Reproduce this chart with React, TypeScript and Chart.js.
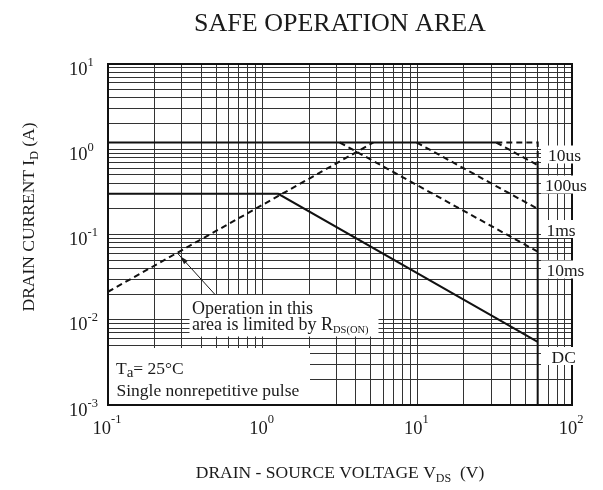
import React, { useEffect, useRef } from "react";
import { Chart, registerables } from "chart.js";

Chart.register(...registerables);

// ---------- axis ticks ----------
const xDecades = [0.1, 1, 10];
const xMax = 100;
const xTickValues = [0.1, 1, 10, 100];
const xTickExponents = ["-1", "0", "1", "2"];
const yDecades = [0.001, 0.01, 0.1, 1];
const yMax = 10;
const yTickValues = [0.001, 0.01, 0.1, 1, 10];
const yTickExponents = ["-3", "-2", "-1", "0", "1"];
const gridMultipliers = [1, 2, 3, 4, 5, 6, 7, 8, 9];

// ---------- curves (V_DS in V, I_D in A) ----------
const pulseLimitV = [0.1, 32.4];
const pulseLimitI = [1.2, 1.2];
const t10usV = [32.4, 60, 60];
const t10usI = [1.2, 1.2, 0.65];
const t100usV = [32.4, 60];
const t100usI = [1.2, 0.65];
const t1msV = [9.9, 60];
const t1msI = [1.2, 0.2];
const t10msV = [3.15, 60];
const t10msI = [1.2, 0.063];
const dcV = [0.1, 1.26, 60];
const dcI = [0.3, 0.3, 0.0055];
const vdsMaxV = [60, 60];
const vdsMaxI = [0.65, 0.001];
const rdsV = [0.1, 5.2];
const rdsI = [0.0213, 1.2];

const curveLabels = ["10us", "100us", "1ms", "10ms", "DC"];
const arrowTipV = 0.28;

const FONT = '"Liberation Serif", "Times New Roman", serif';
const INK = "#1a1a1a";

type Seg = { t: string; size: number; dy?: number };

function pts(xs: number[], ys: number[]) {
  return xs.map((x, i) => ({ x, y: ys[i] }));
}

function gridValues(decades: number[], max: number) {
  const out: number[] = [];
  decades.forEach((d) => gridMultipliers.forEach((m) => out.push(+(d * m).toPrecision(6))));
  out.push(max);
  return out;
}

function drawSegs(ctx: CanvasRenderingContext2D, segs: Seg[], x: number, y: number, align: "left" | "center" | "right") {
  const widths = segs.map((s) => {
    ctx.font = `${s.size}px ${FONT}`;
    return ctx.measureText(s.t).width;
  });
  const total = widths.reduce((a, b) => a + b, 0);
  let cx = align === "left" ? x : align === "center" ? x - total / 2 : x - total;
  ctx.textAlign = "left";
  ctx.textBaseline = "alphabetic";
  segs.forEach((s, i) => {
    ctx.font = `${s.size}px ${FONT}`;
    ctx.fillText(s.t, cx, y + (s.dy || 0));
    cx += widths[i];
  });
}

function logInterp(xs: number[], ys: number[], x: number) {
  const lx0 = Math.log10(xs[0]), lx1 = Math.log10(xs[1]);
  const ly0 = Math.log10(ys[0]), ly1 = Math.log10(ys[1]);
  const t = (Math.log10(x) - lx0) / (lx1 - lx0);
  return Math.pow(10, ly0 + t * (ly1 - ly0));
}

const decorPlugin = {
  id: "decor",
  beforeDatasetsDraw(chart: any) {
    const ctx = chart.ctx as CanvasRenderingContext2D;
    ctx.save();
    ctx.fillStyle = "#ffffff";
    // annotation boxes (cover grid)
    ctx.fillRect(189.5, 295, 189, 41.5);
    ctx.fillRect(109, 348, 201, 57);
    ctx.fillStyle = INK;
    drawSegs(ctx, [{ t: "Operation in this", size: 18 }], 192, 314, "left");
    drawSegs(
      ctx,
      [
        { t: "area is limited by R", size: 18 },
        { t: "DS(ON)", size: 10.5, dy: 3 },
      ],
      192,
      329.5,
      "left"
    );
    drawSegs(
      ctx,
      [
        { t: "T", size: 17.5 },
        { t: "a", size: 15, dy: 3.5 },
        { t: "= 25°C", size: 17.5 },
      ],
      116,
      373.5,
      "left"
    );
    drawSegs(ctx, [{ t: "Single nonrepetitive pulse", size: 17.5 }], 116.5, 396, "left");
    ctx.restore();
  },
  afterDatasetsDraw(chart: any) {
    const ctx = chart.ctx as CanvasRenderingContext2D;
    const { left, right, top, bottom } = chart.chartArea;
    const xs = chart.scales.x;
    const ys = chart.scales.y;
    ctx.save();
    // arrow to the R_DS(on) limit line
    const ex = xs.getPixelForValue(arrowTipV);
    const ey = ys.getPixelForValue(logInterp(rdsV, rdsI, arrowTipV));
    const tx = 215, ty = 294.5;
    ctx.strokeStyle = INK;
    ctx.lineWidth = 1;
    ctx.beginPath();
    ctx.moveTo(tx, ty);
    ctx.lineTo(ex, ey);
    ctx.stroke();
    const dx = ex - tx, dy = ey - ty;
    const len = Math.hypot(dx, dy);
    const ux = dx / len, uy = dy / len;
    const hx = ex - ux * 5, hy = ey - uy * 5;
    ctx.fillStyle = INK;
    ctx.beginPath();
    ctx.moveTo(hx, hy);
    ctx.lineTo(hx - ux * 8 - uy * 2.5, hy - uy * 8 + ux * 2.5);
    ctx.lineTo(hx - ux * 8 + uy * 2.5, hy - uy * 8 - ux * 2.5);
    ctx.closePath();
    ctx.fill();

    // plot frame
    ctx.strokeStyle = "#111";
    ctx.lineWidth = 2;
    ctx.strokeRect(left, top, right - left, bottom - top);

    // curve labels on the right, on white
    const labelPos = [
      [548, 161],
      [545, 191],
      [546.5, 235.5],
      [546.5, 276],
      [551.5, 362.5],
    ];
    curveLabels.forEach((lab, i) => {
      const [lx, ly] = labelPos[i];
      ctx.fillStyle = "#ffffff";
      ctx.fillRect(541, ly - 15.5, 52, 18);
    });
    ctx.fillStyle = INK;
    curveLabels.forEach((lab, i) => {
      const [lx, ly] = labelPos[i];
      drawSegs(ctx, [{ t: lab, size: 17.5 }], lx, ly, "left");
    });
    ctx.restore();
  },
  afterDraw(chart: any) {
    const ctx = chart.ctx as CanvasRenderingContext2D;
    const xs = chart.scales.x;
    const ys = chart.scales.y;
    ctx.save();
    ctx.fillStyle = INK;
    // title
    drawSegs(ctx, [{ t: "SAFE OPERATION AREA", size: 26 }], 340, 31, "center");
    // x tick labels
    xTickValues.forEach((v, i) => {
      const px = xs.getPixelForValue(v);
      drawSegs(
        ctx,
        [
          { t: "10", size: 18.5 },
          { t: xTickExponents[i], size: 12.5, dy: -11 },
        ],
        px - 1,
        433.5,
        "center"
      );
    });
    // y tick labels
    yTickValues.forEach((v, i) => {
      const py = ys.getPixelForValue(v);
      ctx.font = `18.5px ${FONT}`;
      const w = ctx.measureText("10").width;
      drawSegs(
        ctx,
        [
          { t: "10", size: 18.5 },
          { t: yTickExponents[i], size: 12.5, dy: -9 },
        ],
        87.5 - w,
        py + 10.5,
        "left"
      );
    });
    // x axis title
    drawSegs(
      ctx,
      [
        { t: "DRAIN - SOURCE VOLTAGE V", size: 17.5 },
        { t: "DS", size: 12, dy: 4 },
        { t: "  (V)", size: 17.5 },
      ],
      340,
      478,
      "center"
    );
    // y axis title
    ctx.translate(34, 217);
    ctx.rotate(-Math.PI / 2);
    drawSegs(
      ctx,
      [
        { t: "DRAIN CURRENT I", size: 17.5 },
        { t: "D", size: 12, dy: 4 },
        { t: " (A)", size: 17.5 },
      ],
      0,
      0,
      "center"
    );
    ctx.restore();
  },
};

export default function App() {
  const ref = useRef<HTMLCanvasElement | null>(null);
  useEffect(() => {
    if (!ref.current) return;
    const solid = { borderColor: "#111", borderWidth: 2, pointRadius: 0, fill: false };
    const dashed = { ...solid, borderDash: [6, 4] };
    const xGrid = gridValues(xDecades, xMax);
    const yGrid = gridValues(yDecades, yMax);
    const chart = new Chart(ref.current, {
      type: "line",
      data: {
        datasets: [
          { label: "Pulse limit", data: pts(pulseLimitV, pulseLimitI), ...solid },
          { label: "10us", data: pts(t10usV, t10usI), ...dashed },
          { label: "100us", data: pts(t100usV, t100usI), ...dashed },
          { label: "1ms", data: pts(t1msV, t1msI), ...dashed },
          { label: "10ms", data: pts(t10msV, t10msI), ...dashed },
          { label: "DC", data: pts(dcV, dcI), ...solid },
          { label: "VDS max", data: pts(vdsMaxV, vdsMaxI), ...solid },
          { label: "RDS(on) limit", data: pts(rdsV, rdsI), ...dashed },
        ] as any,
      },
      options: {
        animation: false,
        responsive: false,
        events: [],
        layout: { padding: { left: 0, top: 64, right: 31, bottom: 0 } },
        elements: { line: { tension: 0 }, point: { radius: 0 } },
        plugins: {
          legend: { display: false },
          tooltip: { enabled: false },
          title: { display: false },
        },
        scales: {
          x: {
            type: "logarithmic",
            min: 0.1,
            max: 100,
            grid: { color: "#333", lineWidth: 1, drawTicks: false },
            border: { display: false },
            ticks: { display: false, autoSkip: false },
            afterBuildTicks: (s: any) => {
              s.ticks = xGrid.map((v) => ({ value: v }));
            },
            afterFit: (s: any) => {
              s.height = 85;
            },
          },
          y: {
            type: "logarithmic",
            min: 0.001,
            max: 10,
            grid: { color: "#333", lineWidth: 1, drawTicks: false },
            border: { display: false },
            ticks: { display: false, autoSkip: false },
            afterBuildTicks: (s: any) => {
              s.ticks = yGrid.map((v) => ({ value: v }));
            },
            afterFit: (s: any) => {
              s.width = 108;
            },
          },
        } as any,
      },
      plugins: [decorPlugin],
    });
    return () => chart.destroy();
  }, []);
  return (
    <div style={{ position: "absolute", left: 0, top: 0, width: 603, height: 490, background: "#fff" }}>
      <canvas ref={ref} width={603} height={490} style={{ display: "block" }} />
    </div>
  );
}
